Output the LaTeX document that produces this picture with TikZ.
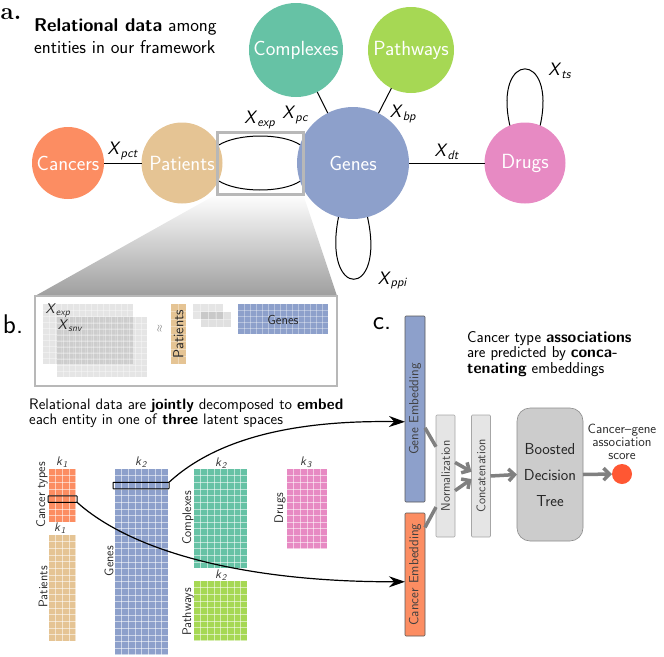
\documentclass[tikz,border=0pt]{standalone}
\usepackage{amsmath}
\usetikzlibrary{arrows.meta,backgrounds,positioning}

\definecolor{cancercol}{HTML}{FC8D62}
\definecolor{patientcol}{HTML}{E5C494}
\definecolor{genecol}{HTML}{8DA0CB}
\definecolor{drugcol}{HTML}{E78AC3}
\definecolor{complexcol}{HTML}{66C2A5}
\definecolor{pathwaycol}{HTML}{A6D854}
\definecolor{scorecol}{HTML}{FF5733}

\tikzset{
  entity/.style={circle,inner sep=0pt,outer sep=0pt,text=white,font=\sffamily\fontsize{20.5}{20.5}\selectfont},
  rellabel/.style={inner sep=1pt,font=\sffamily\fontsize{18}{18}\selectfont},
  smalllabel/.style={inner sep=0pt,text=black!85,font=\sffamily\fontsize{14}{14}\selectfont},
  klabel/.style={inner sep=0pt,text=black!80,font=\sffamily\fontsize{12.5}{12.5}\selectfont},
  sidelabel/.style={inner sep=0pt,rotate=90,text=black!85,font=\sffamily\fontsize{12.5}{12.5}\selectfont},
  headtext/.style={inner sep=0pt,anchor=north west,align=left,font=\sffamily\fontsize{18.5}{22}\selectfont},
  bodytext/.style={inner sep=0pt,anchor=west,align=left,font=\sffamily\fontsize{15.2}{15}\selectfont},
  panelmark/.style={inner sep=0pt,font=\sffamily\fontsize{27}{27}\selectfont},
  treetext/.style={inner sep=0pt,text=black!85,font=\sffamily\fontsize{15.9}{15.9}\selectfont},
  embedbox/.style={draw=black!65,rounded corners=1pt,inner sep=0pt,outer sep=0pt,minimum width=20pt,line width=.6pt},
  layerbox/.style={draw=black!35,fill=black!10,rounded corners=1pt,inner sep=0pt,outer sep=0pt,minimum width=19pt,minimum height=122pt,line width=.6pt},
  hilite/.style={draw=black,rounded corners=.5pt,inner sep=0pt,outer sep=0pt,line width=1pt},
  gridline/.style={white,opacity=.55,line width=.5pt},
  flow/.style={draw=black!50,line width=3.5pt,-{Straight Barb[length=6pt,width=12pt]}},
  embedarrow/.style={draw=black,line width=1.2pt,-{Stealth[length=16pt,width=11pt]}}
}

% name, left, top, columns, rows, look; optional argument is the cell size
\newcommand{\latentmat}[7][6.63]{
  \node[anchor=north west,inner sep=0pt,outer sep=0pt,#7,minimum width=#5*#1pt,minimum height=#6*#1pt] (#2) at (#3,#4) {};
  \foreach \i in {1,...,#5} {\draw[gridline] (#3+\i*#1,#4) -- (#3+\i*#1,#4+#6*#1);}
  \foreach \j in {1,...,#6} {\draw[gridline] (#3,#4+\j*#1) -- (#3+#5*#1,#4+\j*#1);}
}
\newcommand{\relsym}[2]{\textit{#1}$_{\text{\itshape #2}}$}

\begin{document}
\begin{tikzpicture}[x=1pt,y=-1pt]
      \useasboundingbox (0,0) rectangle (664,656);
      \draw
        (68,163) node[entity,fill=cancercol,minimum size=72pt] (cancers){Cancers}
        (182,163) node[entity,fill=patientcol,minimum size=81pt] (patients){Patients}
        (353,163) node[entity,fill=genecol,minimum size=112pt] (genes){Genes}
        (525,163) node[entity,fill=drugcol,minimum size=81pt] (drugs){Drugs}
        (296,50) node[entity,fill=complexcol,minimum size=94pt] (complexes){Complexes}
        (411,50) node[entity,fill=pathwaycol,minimum size=86pt] (pathways){Pathways};
      \begin{scope}[-,line width=1pt]
        \draw (cancers) to node[rellabel,above=2pt] {\relsym{X}{pct}} (patients);
        \draw (genes) to node[rellabel,above=2pt] {\relsym{X}{dt}} (drugs);
        \draw (complexes) to node[rellabel,left=15pt,yshift=-8pt,pos=.7] {\relsym{X}{pc}} (genes);
        \draw (pathways) to node[rellabel,right=6pt,yshift=-8pt,pos=.7] {\relsym{X}{bp}} (genes);
        \draw (patients.26) .. controls (238,133) and (282,133) .. node[rellabel,above=6pt] {\relsym{X}{exp}} (genes.161);
        \draw (patients.-26) .. controls (238,193) and (282,193) .. (genes.-161);
        \draw (drugs.112) .. controls (493,50) and (557,50) .. node[rellabel,pos=.72,above right=0pt and 8pt] {\relsym{X}{ts}} (drugs.68);
        \draw (genes.-105) .. controls (322,300) and (386,300) .. node[rellabel,pos=.7,below right=1pt and 10pt] {\relsym{X}{ppi}} (genes.-75);
      \end{scope}

      \node[draw=black!28,line width=3pt,inner sep=0pt,outer sep=0pt,minimum width=86pt,minimum height=62pt] (relframe) at (260,163) {};
      \node[draw=black!28,fill=white,line width=1.5pt,inner sep=0pt,outer sep=0pt,minimum width=302pt,minimum height=90pt] (zoombox) at (186,341) {};
      \begin{scope}[on background layer]
        \shade[top color=white,bottom color=black!38] (relframe.south west) -- (relframe.south east) -- (zoombox.north east) -- (zoombox.north west) -- cycle;
      \end{scope}

      \node[inner sep=0pt,font=\rmfamily\bfseries\fontsize{24}{24}\selectfont] (markA) at (11,14) {a.};
      \node[panelmark] (markB) at (13,324) {b.};
      \node[panelmark] (markC) at (382,324) {c.};
      \node[headtext] (headA) at (34,18) {\textbf{Relational data} among\\entities in our framework};
      \node[bodytext] (headB) at (29,413) {Relational data are \textbf{jointly} decomposed to \textbf{embed}\\each entity in one of \textbf{three} latent spaces};
      \node[bodytext,font=\sffamily\fontsize{15.8}{15.3}\selectfont] (headC) at (467,354) {Cancer type \textbf{associations}\\are predicted by \textbf{conca-}\\\textbf{tenating} embeddings};

      % the decomposition inside the box
      \begin{scope}[gridline/.append style={opacity=.35}]
        \latentmat[6]{xexpmat}{43}{304}{15}{10}{fill=black,fill opacity=.1}
        \latentmat[6]{xsnvmat}{57}{317}{15}{10}{fill=black,fill opacity=.1}
        \latentmat[7.5]{patfactor}{171}{304}{2}{8}{fill=patientcol}
        \latentmat[7.5]{corea}{193}{304}{4}{2}{fill=black,fill opacity=.1}
        \latentmat[7.5]{coreb}{201}{312}{4}{2}{fill=black,fill opacity=.12}
        \latentmat[6]{genefactor}{238}{304}{15}{5}{fill=genecol}
      \end{scope}
      \node[smalllabel] (xexplab) at (58,311) {\relsym{X}{exp}};
      \node[smalllabel] (xsnvlab) at (70,326) {\relsym{X}{snv}};
      \node[inner sep=0pt,rotate=90,text=black!60] (approx) at (160,329) {$\approx$};
      \node[sidelabel,font=\sffamily\fontsize{14.5}{14.5}\selectfont] (patfactorlab) at (178.5,334) {Patients};
      \node[smalllabel,font=\sffamily\fontsize{13}{13}\selectfont] (genefactorlab) at (283,319.5) {Genes};

      % latent factors
      \latentmat{cancermat}{49}{469}{4}{8}{fill=cancercol}
      \latentmat{patientmat}{49}{535}{4}{16}{fill=patientcol}
      \latentmat{genemat}{115}{469}{8}{28}{fill=genecol}
      \latentmat{complexmat}{194}{469}{8}{15}{fill=complexcol}
      \latentmat{pathwaymat}{194}{581}{8}{9}{fill=pathwaycol}
      \latentmat{drugmat}{287}{469}{6}{12}{fill=drugcol}
      \draw
        (62,462) node[klabel] (kcancer){\relsym{k}{1}}
        (60,528) node[klabel] (kpatient){\relsym{k}{1}}
        (141,462) node[klabel] (kgene){\relsym{k}{2}}
        (221,463) node[klabel] (kcomplex){\relsym{k}{2}}
        (221,575) node[klabel] (kpathway){\relsym{k}{2}}
        (306,462) node[klabel] (kdrug){\relsym{k}{3}};
      \draw
        (42,495) node[sidelabel] (cancerlab){Cancer types}
        (43,587) node[sidelabel] (patientlab){Patients}
        (109,561) node[sidelabel] (genelab){Genes}
        (188,518) node[sidelabel] (complexlab){Complexes}
        (188,612) node[sidelabel] (pathwaylab){Pathways}
        (280,508) node[sidelabel] (druglab){Drugs};
      \node[hilite,minimum width=29pt,minimum height=6.5pt] (cancerrow) at (62.5,499) {};
      \node[hilite,minimum width=56pt,minimum height=6.5pt] (generow) at (141,485.5) {};

      % predictor
      \node[embedbox,fill=genecol,minimum height=186pt] (geneemb) at (415,409) {};
      \node[sidelabel,text=black!75,font=\sffamily\fontsize{13.3}{13.3}\selectfont] (geneemblab) at (415,409) {Gene Embedding};
      \node[embedbox,fill=cancercol,minimum height=123pt] (cancemb) at (415,574.5) {};
      \node[sidelabel,text=black!75,font=\sffamily\fontsize{13.3}{13.3}\selectfont] (cancemblab) at (415,574.5) {Cancer Embedding};
      \node[layerbox] (normbox) at (445.5,476) {};
      \node[sidelabel,text=black!75] (normlab) at (445.5,476) {Normalization};
      \node[layerbox] (concatbox) at (481,476) {};
      \node[sidelabel,text=black!75] (concatlab) at (481,476) {Concatenation};
      \node[draw=black!45,fill=black!20,rounded corners=13pt,inner sep=0pt,outer sep=0pt,minimum width=66pt,minimum height=133pt,line width=.6pt] (treebox) at (550,474.5) {};
      \draw
        (550,449) node[treetext] (treeA){Boosted}
        (550,475) node[treetext] (treeB){Decision}
        (550,501) node[treetext] (treeC){Tree};
      \node[circle,fill=scorecol,inner sep=0pt,outer sep=0pt,minimum size=20pt] (score) at (622,474) {};
      \node[inner sep=0pt,align=center,text=black!85,font=\sffamily\fontsize{13.3}{13}\selectfont] (scorelab) at (622,442) {Cancer--gene\\association\\score};

      \draw[embedarrow] (generow.north east) .. controls (215,440) and (290,420) .. (geneemb.232.4);
      \draw[embedarrow] (cancerrow.south east) .. controls (130,550) and (240,582) .. (cancemb.216.9);

      \draw[draw=black!50,line width=3.5pt] (geneemb.-62) -- (normbox.108);
      \draw[draw=black!50,line width=3.5pt] (cancemb.78.8) -- (normbox.253);
      \draw[flow] (normbox.55.8) -- (concatbox.156);
      \draw[flow] (normbox.-57.6) -- (concatbox.198);
      \draw[flow] (concatbox.east) -- (treebox.west);
      \draw[flow] (treebox.east) -- (score.west);
    \end{tikzpicture}
\end{document}
